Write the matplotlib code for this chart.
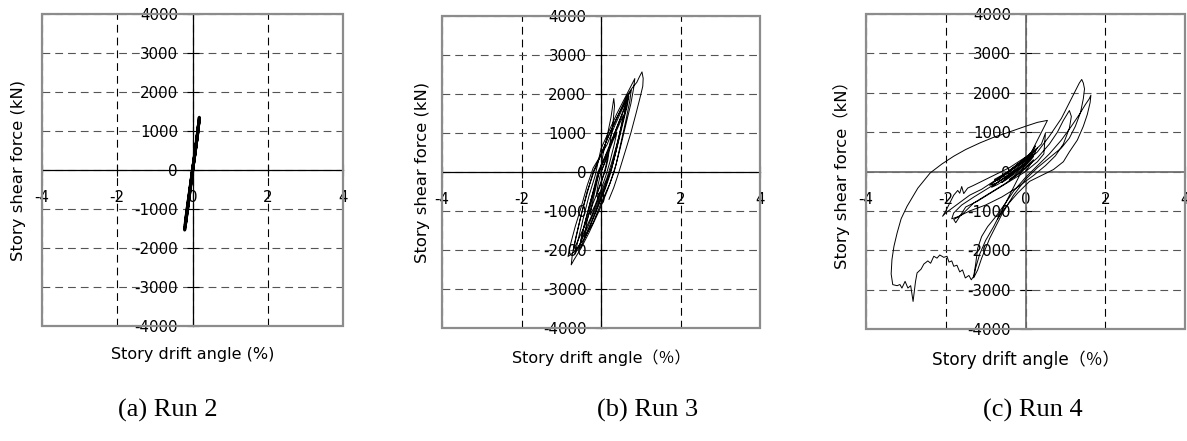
import matplotlib
matplotlib.use("Agg")
import matplotlib.pyplot as plt
from matplotlib.patches import Rectangle

plt.rcParams['font.family'] = ['DejaVu Sans', 'Noto Sans CJK JP']
plt.rcParams['axes.unicode_minus'] = False

drift_ticks = [-4, -2, 0, 2, 4]
shear_ticks = [-4000, -3000, -2000, -1000, 0, 1000, 2000, 3000, 4000]

captions = ["(a) Run 2", "(b) Run 3", "(c) Run 4"]

# Run 2 - nearly elastic, several overlapping cycles
run2_drift = [0.0, 0.07, 0.15, 0.18, 0.14, 0.04, -0.05, -0.13, -0.21, -0.18,
              -0.09, 0.0, 0.1, 0.17, 0.11, 0.01, -0.09, -0.19, -0.13, 0.0]
run2_shear = [0, 450, 1050, 1350, 950, 250, -400, -1000, -1540, -1250,
              -650, 0, 700, 1250, 750, 50, -700, -1400, -900, 0]

# Run 3 - narrow loops with growing amplitude
run3_drift = [0, 0.1, 0.2, 0.17, 0.1, -0.02, -0.12, -0.08, 0.0,
              0.15, 0.3, 0.4, 0.33, 0.22, 0.12, 0.0, -0.15, -0.27, -0.22, -0.12, -0.05,
              0.1, 0.3, 0.45, 0.56, 0.5, 0.38, 0.26, 0.12, -0.05, -0.25, -0.42, -0.37, -0.25, -0.12, 0.0,
              0.2, 0.4, 0.55, 0.68, 0.62, 0.5, 0.37, 0.25, 0.1, -0.1, -0.3, -0.5, -0.55, -0.48, -0.35, -0.2, -0.08,
              0.1, 0.3, 0.5, 0.62, 0.58, 0.45, 0.3, 0.15, -0.05, -0.25, -0.45, -0.5, -0.42, -0.28, -0.12, 0.0,
              0.05, 0.15, 0.25, 0.32, 0.34, 0.3, 0.22, 0.12, 0.0, -0.2, -0.4, -0.6, -0.7, -0.63, -0.5, -0.35, -0.2,
              0.0, 0.2, 0.4, 0.6, 0.76, 0.72, 0.62, 0.5, 0.38, 0.22, 0.0, -0.2, -0.45, -0.68, -0.83, -0.78, -0.65, -0.5, -0.35, -0.2,
              0.15, 0.35, 0.55, 0.7, 0.66, 0.55, 0.42, 0.28, 0.1, -0.12, -0.35, -0.58, -0.65, -0.58, -0.45, -0.3, -0.15,
              0.0, 0.2, 0.4, 0.6, 0.75, 0.85, 0.82, 0.75, 0.62, 0.48, 0.33, 0.15, -0.05, -0.3, -0.5, -0.68, -0.75, -0.72, -0.62, -0.5, -0.35, -0.18,
              0.0, 0.2, 0.45, 0.65, 0.78, 0.9, 0.97, 1.03, 1.06, 1.05, 0.98, 0.88, 0.75, 0.6, 0.45, 0.32, 0.2]
run3_shear = [0, 250, 520, 300, 0, -300, -620, -350, 0,
              400, 800, 1020, 700, 250, -100, -450, -850, -1100, -800, -350, 0,
              350, 850, 1200, 1460, 1150, 600, 100, -350, -800, -1300, -1700, -1350, -800, -250, 150,
              600, 1150, 1550, 1900, 1600, 1100, 500, 0, -450, -950, -1450, -1900, -1980, -1600, -1100, -500, 0,
              400, 900, 1400, 1700, 1450, 900, 350, -150, -650, -1150, -1600, -1750, -1350, -800, -250, 150,
              450, 900, 1400, 1885, 1700, 1250, 700, 150, -300, -800, -1350, -1800, -2000, -1650, -1100, -550, 0,
              450, 950, 1400, 1800, 2100, 1800, 1300, 750, 200, -300, -800, -1300, -1750, -2050, -2166, -1900, -1400, -900, -350, 100,
              700, 1200, 1650, 1950, 1700, 1250, 700, 150, -350, -900, -1450, -1950, -2100, -1750, -1200, -600, -100,
              600, 1050, 1500, 1900, 2200, 2396, 2150, 1750, 1200, 600, 0, -500, -1000, -1550, -1950, -2250, -2380, -2100, -1650, -1100, -500, 0,
              450, 950, 1500, 1950, 2150, 2300, 2450, 2567, 2400, 2200, 1900, 1500, 1000, 500, 0, -400, -700]

# Run 4 - wide hysteresis loops, large negative excursion
run4_drift = [0.0, 0.1, 0.2, 0.1, -0.1, -0.3, -0.4, -0.3, -0.1, 0.1, 0.2, 0.05, -0.2, -0.45, -0.6, -0.5,
              -0.25, 0.0, 0.15, 0.25, 0.12, -0.15, -0.4, -0.7, -0.85, -0.7, -0.45, -0.15, 0.1, 0.22, 0.25,
              0.15, -0.1, -0.4, -0.7, -0.9, -0.75, -0.5, -0.2, 0.05, 0.2,
              0.1, 0.3, 0.2, -0.1, -0.4, -0.7, -0.8, -0.65, -0.35, -0.05, 0.2, 0.28, 0.1, -0.2, -0.5, -0.75,
              -0.6, -0.3, 0.0, 0.25, 0.15, -0.15, -0.45, -0.78, -0.7, -0.4, -0.1, 0.18,
              0.05, -0.2, -0.5, -0.8, -1.1, -1.4, -1.6, -1.8, -2.0, -2.08, -2.0, -1.9, -1.8, -1.7, -1.65,
              -1.6, -1.55, -1.45, -1.3, -1.0, -0.7, -0.4, -0.1, 0.2, 0.4, 0.5, 0.48, 0.46, 0.3, 0.0, -0.4,
              -0.8, -1.2, -1.5, -1.75, -1.8, -1.6, -1.3, -0.9, -0.5, -0.1, 0.3, 0.6, 0.8, 0.95, 1.1, 1.15,
              1.1, 0.95, 0.75, 0.5, 0.2, -0.2, -0.6, -1.0, -1.4, -1.7, -1.85, -1.8, -1.6, -1.3, -0.9, -0.5,
              -0.1, 0.3, 0.6, 0.9, 1.1, 1.25, 1.35, 1.41, 1.45, 1.48, 1.45, 1.38, 1.25, 1.1, 0.9, 0.6, 0.3,
              0.0, -0.3, -0.6, -0.9, -1.1, -1.2, -1.3, -1.25, -1.15, -1.0, -0.8, -0.6, -0.4, -0.2, 0.0, 0.2,
              0.4, 0.55, 0.3, 0.0, -0.47, -0.8, -1.14, -1.5, -1.8, -2.1, -2.39, -2.7, -2.97, -3.12, -3.22,
              -3.3, -3.35, -3.37, -3.33, -3.22, -3.15, -3.1, -3.02, -2.95, -2.88, -2.82, -2.76, -2.72, -2.62,
              -2.55, -2.45, -2.38, -2.3, -2.22, -2.15, -2.05, -1.97, -1.92, -1.85, -1.8, -1.72, -1.65, -1.58,
              -1.51, -1.42, -1.36, -1.3, -1.25, -1.2, -1.1, -0.95, -0.75, -0.5, -0.3, 0.0, 0.3, 0.6, 0.9,
              1.15, 1.35, 1.5, 1.6, 1.64, 1.62, 1.55, 1.45, 1.3, 1.1, 0.95, 0.7, 0.4, 0.1, -0.2, -0.5, -0.7]
run4_shear = [0, 150, 300, 200, 0, -150, -200, -120, 50, 250, 380, 250, 50, -150, -280, -220,
              -40, 180, 350, 480, 380, 150, -50, -280, -400, -330, -160, 80, 300, 600, 650,
              500, 250, 20, -200, -350, -300, -150, 50, 250, 420,
              450, 600, 500, 250, 0, -200, -260, -180, 50, 300, 500, 560, 420, 180, -50, -230,
              -120, 100, 330, 520, 470, 230, -10, -200, -230, 0, 230, 430,
              300, 150, -50, -250, -450, -600, -750, -900, -1050, -1136, -1000, -800, -600, -480, -550,
              -380, -560, -420, -350, -200, -50, 100, 300, 500, 700, 980, 700, 450, 250, 0, -250,
              -500, -750, -900, -1300, -1220, -1100, -800, -550, -300, 0, 350, 700, 1000, 1300, 1550, 1400,
              1100, 700, 400, 150, -100, -400, -650, -850, -1000, -1150, -1200, -1050, -850, -650, -400, -150,
              150, 500, 900, 1350, 1750, 2050, 2250, 2340, 2250, 2100, 1850, 1500, 1150, 850, 600, 350, 100,
              -200, -600, -1100, -1700, -2200, -2500, -2700, -2450, -2100, -1750, -1400, -1000, -600, -200, 200, 600,
              1000, 1300, 1250, 1150, 983, 870, 729, 560, 390, 190, -34, -420, -881, -1200, -1559,
              -1900, -2237, -2600, -2873, -2900, -2870, -2960, -2790, -2960, -2900, -3300, -2800, -2576, -2480,
              -2350, -2270, -2330, -2152, -2200, -2120, -2180, -2152, -2300, -2270, -2407, -2380, -2550, -2500,
              -2703, -2640, -2750, -2661, -2350, -1950, -1650, -1400, -1150, -800, -500, -150, 150, 450, 800,
              1150, 1450, 1700, 1850, 1940, 1750, 1450, 1150, 800, 500, 250, 50, -100, -250, -550, -900, -1200]

runs = [(run2_drift, run2_shear), (run3_drift, run3_shear), (run4_drift, run4_shear)]

# axes rectangles in figure fractions (left, bottom, width, height)
boxes = [(0.0354, 0.2608, 0.2536, 0.7075),
         (0.3724, 0.2562, 0.2679, 0.7075),
         (0.7296, 0.2540, 0.2687, 0.7140)]
xlabels = ["Story drift angle (%)", "Story drift angle（％）", "Story drift angle（％）"]
ylabels = ["Story shear force (kN)", "Story shear force (kN)", "Story shear force（kN）"]
ylab_x = [-0.053, -0.038, -0.05]
xlab_size = [11.5, 11.5, 12.2]
line_w = [2.2, 0.7, 0.7]
zero_line = [('black', 0.9), ('black', 0.9), ('#707070', 1.3)]
caption_x = [168, 648, 1033]

fig = plt.figure(figsize=(11.87, 4.41), dpi=100)

for i, (drift, shear) in enumerate(runs):
    ax = fig.add_axes(boxes[i])
    ax.set_xlim(-4, 4)
    ax.set_ylim(-4000, 4000)
    ax.set_xticks(drift_ticks)
    ax.set_yticks(shear_ticks)
    for s in ['top', 'right']:
        ax.spines[s].set_visible(False)
    for s in ['left', 'bottom']:
        ax.spines[s].set_position('zero')
        ax.spines[s].set_color(zero_line[i][0])
        ax.spines[s].set_linewidth(zero_line[i][1])
    ax.add_patch(Rectangle((0, 0), 1, 1, transform=ax.transAxes, fill=False,
                           edgecolor='#8c8c8c', linewidth=1.6, clip_on=False, zorder=4))
    ax.tick_params(direction='inout', length=9, width=0.8, labelsize=10.8)
    ax.tick_params(axis='x', pad=10)
    ax.tick_params(axis='y', pad=6)
    ax.xaxis.grid(True, color='black', linewidth=0.8, linestyle=(0, (7, 4.5)))
    ax.yaxis.grid(True, color='#555555', linewidth=0.8, linestyle=(0, (7, 4.5)))
    ax.set_axisbelow(True)

    ax.plot(drift, shear, color='black', linewidth=line_w[i], zorder=3)

    ax.set_xlabel(xlabels[i], fontsize=xlab_size[i])
    ax.set_ylabel(ylabels[i], fontsize=11.8)
    ax.xaxis.set_label_coords(0.5, -0.068)
    ax.yaxis.set_label_coords(ylab_x[i], 0.5)

    fig.text(caption_x[i] / 1187, 1 - 410 / 441, captions[i], ha='center', va='center',
             fontsize=19, family='Liberation Serif')

plt.savefig("out.png", dpi=100)
